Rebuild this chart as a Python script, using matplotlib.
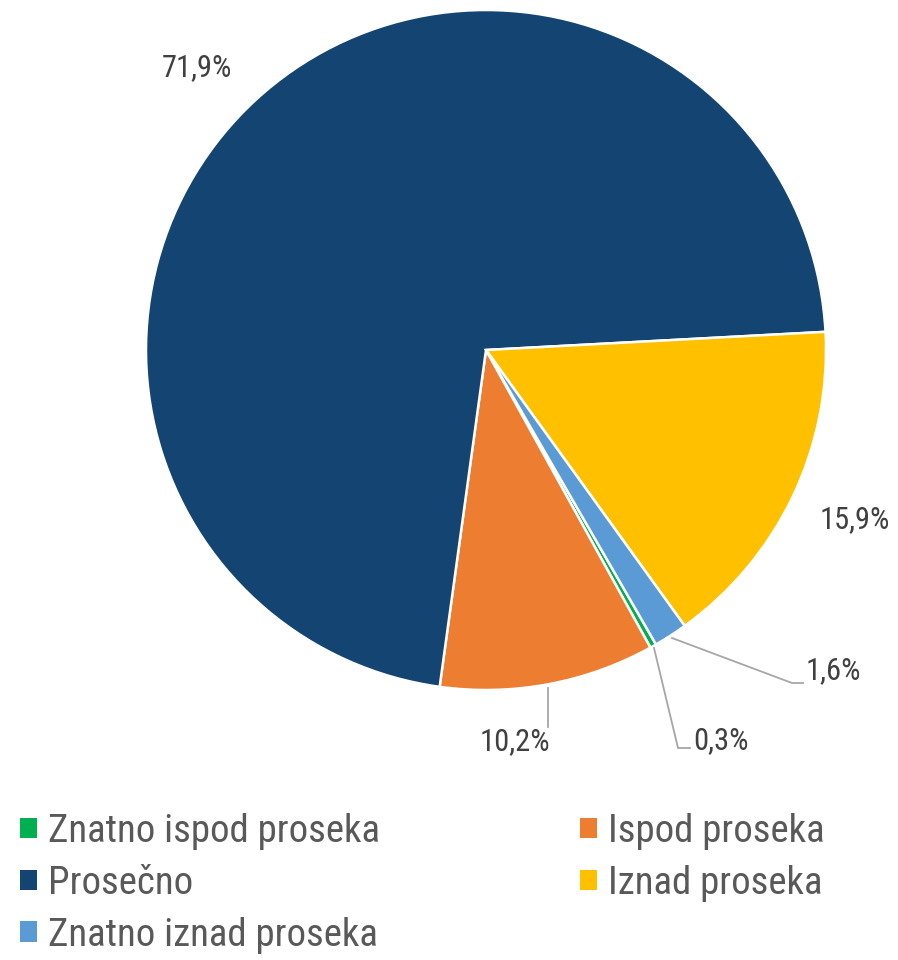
import matplotlib
matplotlib.use("Agg")
import matplotlib.pyplot as plt
from matplotlib.patches import Patch

# Data (legend order)
categories = ["Znatno ispod proseka", "Ispod proseka", "Prosečno", "Iznad proseka", "Znatno iznad proseka"]
values = [0.3, 10.2, 71.9, 15.9, 1.6]
labels = ["0,3%", "10,2%", "71,9%", "15,9%", "1,6%"]
colors = ["#00B050", "#ED7D31", "#144472", "#FFC000", "#5B9BD5"]

plt.rcParams['font.family'] = ['Roboto Condensed', 'DejaVu Sans']

W, H = 898, 960
fig = plt.figure(figsize=(W / 100, H / 100), dpi=100)
ax = fig.add_axes([0, 0, 1, 1])
ax.axis('off')

cx, cy, R = 486, H - 350, 340
wedges, _ = ax.pie(values, colors=colors, startangle=-60, counterclock=False,
                   center=(cx, cy), radius=R,
                   wedgeprops=dict(edgecolor='white', linewidth=1.8))
ax.set_xlim(0, W)
ax.set_ylim(0, H)
ax.set_aspect('equal')

lab_col = "#404040"
line_col = "#A6A6A6"
fs_lab = 22

# label positions (pixel coords, y from top)
pos = {
    "71,9%": (197, 68, 'center'),
    "15,9%": (855, 520, 'center'),
    "10,2%": (515, 742, 'center'),
    "0,3%": (693, 741, 'left'),
    "1,6%": (806, 671, 'left'),
}
for lab in labels:
    x, y, ha = pos[lab]
    ax.text(x, H - y, lab, fontsize=fs_lab, color=lab_col, ha=ha, va='center')

# leader lines
ax.plot([548, 548], [H - 688, H - 727], color=line_col, lw=1.3)
ax.plot([654, 678, 690], [H - 648, H - 748, H - 748], color=line_col, lw=1.3)
ax.plot([672, 792, 803], [H - 638, H - 683, H - 683], color=line_col, lw=1.3)

# legend: column-filled order to mimic row layout
order = [0, 2, 4, 1, 3]
handles = [Patch(facecolor=colors[i], edgecolor='none') for i in order]
names = [categories[i] for i in order]
leg = fig.legend(handles, names, loc='upper left', bbox_to_anchor=(20 / W, 1 - 813 / H),
                 ncol=2, frameon=False, fontsize=28, handlelength=0.44, handleheight=0.44,
                 handletextpad=0.28, columnspacing=5.15, labelspacing=0.38,
                 borderpad=0, borderaxespad=0)
for t in leg.get_texts():
    t.set_color("#595959")

fig.savefig("out.png", dpi=100)
